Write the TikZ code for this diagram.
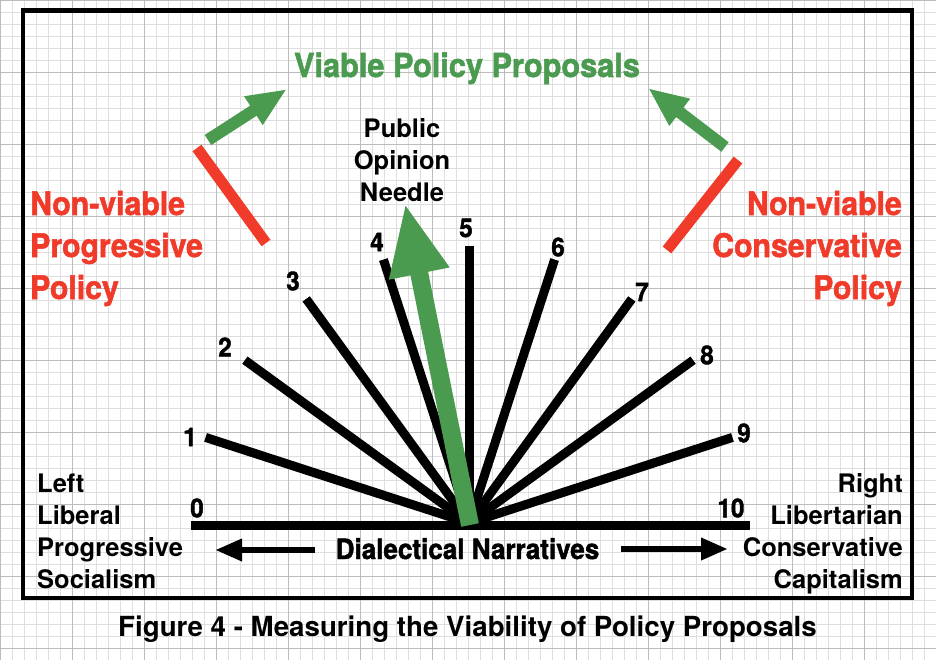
\documentclass[tikz,border=0pt]{standalone}
\usepackage{fontspec}
\setmainfont{TeX Gyre Heros}
\newfontfamily\condfont[FakeStretch=0.93,FakeBold=1.6]{TeX Gyre Heros}
\usetikzlibrary{arrows.meta}

\definecolor{viablegreen}{RGB}{74,154,80}
\definecolor{nonviablered}{RGB}{240,58,42}
\definecolor{gridgray}{RGB}{222,222,222}
\definecolor{gridgraydark}{RGB}{188,188,188}

\begin{document}
\begin{tikzpicture}[x=1pt,y=-1pt]
		\tikzset{minorgrid/.style = {draw=gridgray, line width=0.7pt},
			majorgrid/.style = {draw=gridgraydark, line width=0.9pt},
			spoke/.style = {line width=9pt},
			numlabel/.style = {inner sep=0pt, font=\condfont\bfseries\fontsize{26}{26}\selectfont},
			sidetext/.style = {inner sep=0pt, font=\bfseries\fontsize{25.5}{32}\selectfont},
			redtext/.style = {inner sep=0pt, text=nonviablered, font=\condfont\bfseries\fontsize{32.5}{42}\selectfont},
			redbar/.style = {draw=nonviablered, line width=11pt},
			greenpointer/.style = {draw=viablegreen, line width=12pt, -{Triangle[length=40pt,width=31pt]}},
			needle/.style = {draw=viablegreen, line width=18pt, -{Triangle[length=72pt,width=56pt]}},
			dirarrow/.style = {line width=6.5pt, -{Triangle[length=27pt,width=21pt]}}}

		\useasboundingbox (0,0) rectangle (936,660);

		% grid paper
		\foreach \gx in {0,12,...,936} \draw[minorgrid] (\gx,0) -- (\gx,660);
		\foreach \gy in {0,12,...,660} \draw[minorgrid] (0,\gy) -- (936,\gy);
		\foreach \gx in {0,72,...,936} \draw[majorgrid] (\gx,0) -- (\gx,660);
		\foreach \gy in {0,72,...,660} \draw[majorgrid] (0,\gy) -- (936,\gy);

		\draw[line width=4.5pt] (23,10.5) rectangle (912,598);

		\coordinate (hub) at (469,523);
		\coordinate (zeroend) at (191,525);
		\coordinate (tenend) at (750,525);

		\foreach \i/\lx/\ly in {1/190/437,2/225/347,3/293/281,4/377/242,5/466/228,6/558/247,7/642/292,8/707/355,9/744/433}{
			\coordinate (tip\i) at ([shift={({180-18*\i}:277pt)}]hub);
			\draw[spoke] (hub) -- (tip\i);
			\node[numlabel] (num\i) at (\lx,\ly) {\i};
		}

		\draw[spoke] (zeroend) -- (tenend);
		\node[numlabel] (num0) at (197,508) {0};
		\node[numlabel] (num10) at (731,508) {10};

		% needle
		\coordinate (needlebase) at (470,525);
		\coordinate (needletip) at (405,203);
		\draw[needle] (needlebase) -- (needletip);

		\node[sidetext, anchor=base] (pub1) at (402,138) {Public};
		\node[sidetext, anchor=base] (pub2) at (402,170) {Opinion};
		\node[sidetext, anchor=base] (pub3) at (402,202) {Needle};

		\node[anchor=base, inner sep=0pt, text=viablegreen, font=\condfont\bfseries\fontsize{33}{33}\selectfont] (viable) at (467,77) {Viable Policy Proposals};

		\coordinate (lefttail) at (208,140);
		\coordinate (lefthead) at (287,89);
		\coordinate (righttail) at (725,147);
		\coordinate (righthead) at (648,88);
		\draw[greenpointer] (lefttail) -- (lefthead);
		\draw[greenpointer] (righttail) -- (righthead);

		\coordinate (leftbartop) at (197,148);
		\coordinate (leftbarlow) at (266,243);
		\coordinate (rightbartop) at (738,160);
		\coordinate (rightbarlow) at (667,250);
		\draw[redbar] (leftbartop) -- (leftbarlow);
		\draw[redbar] (rightbartop) -- (rightbarlow);

		\foreach \txt [count=\k] in {Non-viable,Progressive,Policy}
			\node[redtext, anchor=base west] (prog\k) at (30,{215+42*(\k-1)}) {\txt};
		\foreach \txt [count=\k] in {Non-viable,Conservative,Policy}
			\node[redtext, anchor=base east] (cons\k) at (902,{215+42*(\k-1)}) {\txt};

		\foreach \txt [count=\k] in {Left,Liberal,Progressive,Socialism}
			\node[sidetext, anchor=base west] (left\k) at (37,{492+32*(\k-1)}) {\txt};
		\foreach \txt [count=\k] in {Right,Libertarian,Conservative,Capitalism}
			\node[sidetext, anchor=base east] (right\k) at (903,{492+32*(\k-1)}) {\txt};

		\node[anchor=base, inner sep=0pt, font=\condfont\bfseries\fontsize{28}{28}\selectfont] (narr) at (467.5,559) {Dialectical Narratives};

		\coordinate (leftstart) at (315,550);
		\coordinate (leftend) at (215,550);
		\coordinate (rightstart) at (621,549);
		\coordinate (rightend) at (728,549);
		\draw[dirarrow] (leftstart) -- (leftend);
		\draw[dirarrow] (rightstart) -- (rightend);

		\node[anchor=base, inner sep=0pt, font=\bfseries\fontsize{27.7}{28}\selectfont] (caption) at (467.5,636) {Figure 4 - Measuring the Viability of Policy Proposals};

	\end{tikzpicture}
\end{document}
